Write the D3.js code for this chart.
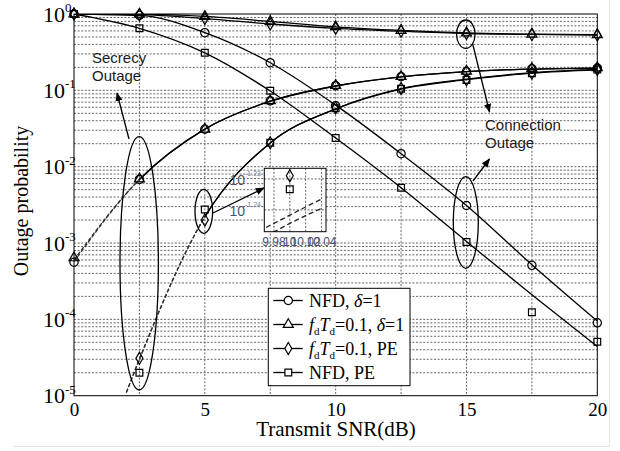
<!DOCTYPE html>
<html>
<head>
<meta charset="utf-8">
<script src="https://cdn.jsdelivr.net/npm/d3@7"></script>
<style>
  body { margin: 0; background: #fff; }
  svg { display: block; }
</style>
</head>
<body>
<svg id="chart" width="620" height="451"></svg>
<script>
// ---- data -------------------------------------------------------------
const snr = [0, 2.5, 5, 7.5, 10, 12.5, 15, 17.5, 20];          // transmit SNR (dB)
const snrPe = [2, 2.5, 5, 7.5, 10, 12.5, 15, 17.5, 20];         // secrecy curves with PE start lower

// connection outage, analysis
const connNfdDelta = [1.0, 0.96, 0.57, 0.23, 0.064, 0.0148, 0.0031, 5.2e-4, 9.5e-5];
const connFdDelta  = [1.0, 0.995, 0.93, 0.8, 0.68, 0.61, 0.565, 0.545, 0.535];
const connFdPe     = [1.0, 0.98, 0.87, 0.74, 0.65, 0.595, 0.555, 0.54, 0.53];
const connNfdPe    = [1.0, 0.65, 0.31, 0.098, 0.0237, 0.0053, 0.00105, 2.1e-4, 4.4e-5];

// connection outage, simulation
const simConnNfdDelta = [1.0, 0.96, 0.57, 0.23, 0.063, 0.0148, 0.0031, 5.1e-4, 9.0e-5];
const simConnFdDelta  = [1.0, 0.995, 0.93, 0.8, 0.68, 0.61, 0.565, 0.545, 0.535];
const simConnFdPe     = [1.0, 0.98, 0.87, 0.74, 0.65, 0.595, 0.555, 0.54, 0.53];
const simConnNfdPe    = [1.0, 0.65, 0.31, 0.099, 0.0237, 0.0053, 0.00103, 1.24e-4, 5.1e-5];

// secrecy outage, analysis
const secNfdDelta = [5.7e-4, 6.8e-3, 0.031, 0.072, 0.114, 0.15, 0.176, 0.19, 0.196];
const secFdDelta  = [6.0e-4, 6.8e-3, 0.031, 0.072, 0.114, 0.15, 0.176, 0.19, 0.196];
const secFdPe     = [1.1e-5, 3.0e-5, 2.2e-3, 0.0205, 0.05732, 0.105, 0.14, 0.17, 0.188];
const secNfdPe    = [1.1e-5, 3.0e-5, 2.2e-3, 0.0205, 0.05697, 0.104, 0.138, 0.168, 0.186];

// secrecy outage, simulation (null = below the axis)
const simSecNfdDelta = [5.6e-4, 6.8e-3, 0.031, 0.073, 0.115, 0.151, 0.176, 0.192, 0.196];
const simSecFdDelta  = [6.4e-4, 6.9e-3, 0.031, 0.073, 0.116, 0.152, 0.178, 0.193, 0.197];
const simSecFdPe     = [null, 3.1e-5, 2.0e-3, 0.0206, 0.05902, 0.106, 0.138, 0.169, 0.188];
const simSecNfdPe    = [null, 2.0e-5, 2.75e-3, 0.0206, 0.05843, 0.105, 0.137, 0.168, 0.187];

// magnified view around 10 dB
const insetSnr      = [9.97, 9.98, 10.0, 10.02, 10.04];
const insetSecFdPe  = [0.05680, 0.05697, 0.05732, 0.05767, 0.05801];
const insetSecNfdPe = [0.05644, 0.05661, 0.05697, 0.05730, 0.05761];

// axis ticks
const xTicks = [0, 5, 10, 15, 20];
const yTickExp = [0, -1, -2, -3, -4, -5];
const insetXTicks = ["9.98", "10", "10.02", "10.04"];
const insetYTickExp = ["-1.23", "-1.24"];

const legendLabels = ["NFD, δ=1", "fdTd=0.1, δ=1", "fdTd=0.1, PE", "NFD, PE"];

// ---- layout -----------------------------------------------------------
const svg = d3.select("#chart");
const L = 74, R = 597.3, T = 14, B = 395.7;
const x = d3.scaleLinear().domain([0, 20]).range([L, R]);
const y = d3.scaleLog().domain([1e-5, 1]).range([B, T]);

const serif = "'Liberation Serif', 'Times New Roman', serif";
const sans = "'Liberation Sans', Arial, sans-serif";

const shapes = {
  circle: d3.symbol(d3.symbolCircle, 54),
  triangle: d3.symbol(d3.symbolTriangle, 44),
  diamond: d3.symbol(d3.symbolDiamond, 42),
  square: d3.symbol(d3.symbolSquare, 46)
};

const series = [
  { shape: "circle",   conn: connNfdDelta, connSim: simConnNfdDelta, secX: snr,   sec: secNfdDelta, secSim: simSecNfdDelta, dashTo: 2.5 },
  { shape: "triangle", conn: connFdDelta,  connSim: simConnFdDelta,  secX: snr,   sec: secFdDelta,  secSim: simSecFdDelta,  dashTo: 2.5 },
  { shape: "diamond",  conn: connFdPe,     connSim: simConnFdPe,     secX: snrPe, sec: secFdPe,     secSim: simSecFdPe,     dashTo: 5 },
  { shape: "square",   conn: connNfdPe,    connSim: simConnNfdPe,    secX: snrPe, sec: secNfdPe,    secSim: simSecNfdPe,    dashTo: 5 }
];

const defs = svg.append("defs");
defs.append("clipPath").attr("id", "plotClip")
  .append("rect").attr("x", L).attr("y", T).attr("width", R - L).attr("height", B - T);
[2.5, 5].forEach(v => {
  const id = String(v).replace(".", "_");
  defs.append("clipPath").attr("id", "dash" + id)
    .append("rect").attr("x", 0).attr("y", 0).attr("width", x(v)).attr("height", 451);
  defs.append("clipPath").attr("id", "solid" + id)
    .append("rect").attr("x", x(v)).attr("y", 0).attr("width", 620 - x(v)).attr("height", 451);
});
defs.append("marker").attr("id", "arrow")
  .attr("viewBox", "0 0 10 10").attr("refX", 9).attr("refY", 5)
  .attr("markerWidth", 9).attr("markerHeight", 9).attr("markerUnits", "userSpaceOnUse")
  .attr("orient", "auto")
  .append("path").attr("d", "M0,1 L10,5 L0,9 Z").attr("fill", "#000");

// faint figure border
svg.append("path").attr("d", "M13,446.5 H609.5 V0").attr("fill", "none")
  .attr("stroke", "#e4e4e4").attr("stroke-width", 1);

// ---- grid -------------------------------------------------------------
const gridY = [];
for (let e = -5; e < 0; e++) for (let k = 1; k < 10; k++) {
  const v = k * Math.pow(10, e);
  if (v > 1.0001e-5) gridY.push(v);
}
const grid = svg.append("g").attr("stroke", "#555").attr("stroke-width", 0.9)
  .attr("stroke-dasharray", "2,1.6");
grid.selectAll("line.h").data(gridY).join("line").attr("class", "h")
  .attr("x1", L).attr("x2", R).attr("y1", d => y(d)).attr("y2", d => y(d));
grid.selectAll("line.v").data(d3.range(2.5, 20, 2.5)).join("line").attr("class", "v")
  .attr("x1", d => x(d)).attr("x2", d => x(d)).attr("y1", T).attr("y2", B);

svg.append("rect").attr("x", L).attr("y", T).attr("width", R - L).attr("height", B - T)
  .attr("fill", "none").attr("stroke", "#000").attr("stroke-width", 1);

// ---- axes -------------------------------------------------------------
const xAxis = svg.append("g").attr("transform", `translate(0,${B})`)
  .call(d3.axisBottom(x).tickValues(xTicks).tickSize(0).tickPadding(0).tickFormat(d3.format("d")));
xAxis.select(".domain").remove();
xAxis.selectAll("text").attr("dy", null).attr("y", 20)
  .attr("font-family", serif).attr("font-size", 19).attr("fill", "#000");

const yAxis = svg.append("g").attr("transform", `translate(${L},0)`)
  .call(d3.axisLeft(y).tickValues(yTickExp.map(e => Math.pow(10, e))).tickSize(0).tickFormat(""));
yAxis.select(".domain").remove();
yAxis.selectAll(".tick").each(function (d, i) {
  const g = d3.select(this);
  g.select("text").remove();
  g.append("text").attr("x", -9).attr("y", 7).attr("text-anchor", "end")
    .attr("font-family", serif).attr("font-size", 22).attr("fill", "#000").text("10");
  g.append("text").attr("x", -9).attr("y", -2.5).attr("text-anchor", "start")
    .attr("font-family", serif).attr("font-size", 13).attr("fill", "#000").text(String(yTickExp[i]));
});

svg.append("text").attr("transform", "translate(28,201) rotate(-90)")
  .attr("text-anchor", "middle").attr("font-family", serif).attr("font-size", 20)
  .text("Outage probability");
svg.append("text").attr("x", 336).attr("y", 436).attr("text-anchor", "middle")
  .attr("font-family", serif).attr("font-size", 21).text("Transmit SNR(dB)");

// ---- curves -----------------------------------------------------------
const line = d3.line().defined(d => d[1] != null)
  .x(d => x(d[0])).y(d => y(d[1])).curve(d3.curveMonotoneX);

const plot = svg.append("g").attr("clip-path", "url(#plotClip)")
  .attr("fill", "none").attr("stroke", "#000").attr("stroke-width", 1.3);

series.forEach(s => {
  plot.append("path").attr("d", line(snr.map((v, i) => [v, s.conn[i]])));
  const secPts = s.secX.map((v, i) => [v, s.sec[i]]);
  const id = String(s.dashTo).replace(".", "_");
  plot.append("g").attr("clip-path", `url(#dash${id})`)
    .append("path").attr("d", line(secPts))
    .attr("stroke", "#333").attr("stroke-dasharray", "4,2");
  plot.append("g").attr("clip-path", `url(#solid${id})`)
    .append("path").attr("d", line(secPts));
});

// simulation markers
const marks = svg.append("g").attr("fill", "none").attr("stroke", "#000").attr("stroke-width", 1.2);
series.forEach(s => {
  const pts = [];
  snr.forEach((v, i) => {
    if (s.connSim[i] != null) pts.push([v, s.connSim[i]]);
    if (s.secSim[i] != null) pts.push([v, s.secSim[i]]);
  });
  marks.selectAll(null).data(pts).join("path")
    .attr("transform", d => `translate(${x(d[0])},${y(d[1])})`)
    .attr("d", shapes[s.shape]());
});

// ---- annotations ------------------------------------------------------
const ann = svg.append("g").attr("fill", "none").attr("stroke", "#000").attr("stroke-width", 1.3);
[[139.2, 263.3, 19.2, 126.7], [203.8, 211.3, 8.8, 22], [465.8, 34.2, 9.2, 14.2], [465.8, 222.5, 12.5, 45.8]]
  .forEach(e => ann.append("ellipse").attr("cx", e[0]).attr("cy", e[1]).attr("rx", e[2]).attr("ry", e[3]));
[[129, 139, 117, 93], [472.7, 44, 489.5, 112], [473, 181, 489.5, 159], [213, 213, 264, 188]]
  .forEach(a => ann.append("line").attr("x1", a[0]).attr("y1", a[1]).attr("x2", a[2]).attr("y2", a[3])
    .attr("marker-end", "url(#arrow)"));

const note = svg.append("g").attr("font-family", sans).attr("font-size", 15).attr("fill", "#1a1a1a");
note.append("text").attr("x", 92).attr("y", 63).text("Secrecy");
note.append("text").attr("x", 92).attr("y", 81).text("Outage");
note.append("text").attr("x", 485).attr("y", 130).text("Connection");
note.append("text").attr("x", 485).attr("y", 148).text("Outage");

// ---- magnified inset --------------------------------------------------
const IL = 264.3, IR = 326, IT = 168.3, IB = 231.7;
const ix = d3.scaleLinear().domain([9.9678, 10.0457]).range([IL, IR]);
const iy = d3.scaleLog().domain([0.05662, 0.05935]).range([IB, IT]);
defs.append("clipPath").attr("id", "insetClip")
  .append("rect").attr("x", IL).attr("y", IT).attr("width", IR - IL).attr("height", IB - IT);

const inset = svg.append("g");
inset.append("rect").attr("x", IL).attr("y", IT).attr("width", IR - IL).attr("height", IB - IT)
  .attr("fill", "#fff");
const ig = inset.append("g").attr("stroke", "#555").attr("stroke-width", 0.9).attr("stroke-dasharray", "2,1.6");
insetXTicks.map(Number).filter(v => ix(v) < IR).forEach(v =>
  ig.append("line").attr("x1", ix(v)).attr("x2", ix(v)).attr("y1", IT).attr("y2", IB));
insetYTickExp.map(e => Math.pow(10, Number(e))).forEach(v =>
  ig.append("line").attr("x1", IL).attr("x2", IR).attr("y1", iy(v)).attr("y2", iy(v)));

const iline = d3.line().x(d => ix(d[0])).y(d => iy(d[1])).curve(d3.curveMonotoneX);
const ic = inset.append("g").attr("clip-path", "url(#insetClip)")
  .attr("fill", "none").attr("stroke", "#222").attr("stroke-width", 1.3).attr("stroke-dasharray", "5,3");
[insetSecFdPe, insetSecNfdPe].forEach(arr =>
  ic.append("path").attr("d", iline(insetSnr.map((v, i) => [v, arr[i]]))));

const im = inset.append("g").attr("clip-path", "url(#insetClip)")
  .attr("fill", "none").attr("stroke", "#000").attr("stroke-width", 1.2);
const i10 = snr.indexOf(10);
series.forEach(s => {
  im.append("path").attr("transform", `translate(${ix(10)},${iy(s.secSim[i10])})`)
    .attr("d", shapes[s.shape]());
});
inset.append("rect").attr("x", IL).attr("y", IT).attr("width", IR - IL).attr("height", IB - IT)
  .attr("fill", "none").attr("stroke", "#000").attr("stroke-width", 1);

// the magnified tick labels crowd each other, as they do in the printed figure
const it = inset.append("g").attr("font-family", sans).attr("fill", "#4a5070");
insetXTicks.forEach(t => it.append("text").attr("x", ix(Number(t))).attr("y", 246)
  .attr("text-anchor", "middle").attr("font-size", 12).text(t));
insetYTickExp.forEach(e => {
  const yy = iy(Math.pow(10, Number(e)));
  it.append("text").attr("x", 245).attr("y", yy + 6).attr("text-anchor", "end")
    .attr("font-size", 14).text("10");
  it.append("text").attr("x", 245).attr("y", yy - 3).attr("font-size", 7).attr("fill", "#7a7f96").text(e);
});

// ---- legend -----------------------------------------------------------
const lg = svg.append("g");
lg.append("rect").attr("x", 268.3).attr("y", 288.3).attr("width", 141.7).attr("height", 97.4)
  .attr("fill", "#fff").attr("stroke", "#000").attr("stroke-width", 1);
const rowY = [306.5, 330.5, 354.5, 378.5];
series.forEach((s, i) => {
  const cy = rowY[i] - 6;
  lg.append("line").attr("x1", 273.3).attr("x2", 302.7).attr("y1", cy).attr("y2", cy)
    .attr("stroke", "#000").attr("stroke-width", 1.3);
  lg.append("path").attr("transform", `translate(288.3,${cy})`).attr("d", shapes[s.shape]())
    .attr("fill", "#fff").attr("stroke", "#000").attr("stroke-width", 1.2);
  const t = lg.append("text").attr("x", 309).attr("y", rowY[i])
    .attr("font-family", serif).attr("font-size", 18).attr("fill", "#000");
  const label = legendLabels[i];
  if (label.startsWith("fdTd")) {
    t.append("tspan").attr("font-style", "italic").text("f");
    t.append("tspan").attr("font-size", 11).attr("dy", 4).text("d");
    t.append("tspan").attr("font-style", "italic").attr("dy", -4).text("T");
    t.append("tspan").attr("font-size", 11).attr("dy", 4).text("d");
    const rest = label.slice(4);
    const k = rest.indexOf("δ");
    if (k >= 0) {
      t.append("tspan").attr("dy", -4).text(rest.slice(0, k));
      t.append("tspan").attr("font-style", "italic").text("δ");
      t.append("tspan").text(rest.slice(k + 1));
    } else {
      t.append("tspan").attr("dy", -4).text(rest);
    }
  } else {
    const k = label.indexOf("δ");
    if (k >= 0) {
      t.append("tspan").text(label.slice(0, k));
      t.append("tspan").attr("font-style", "italic").text("δ");
      t.append("tspan").text(label.slice(k + 1));
    } else {
      t.text(label);
    }
  }
});
</script>
</body>
</html>
